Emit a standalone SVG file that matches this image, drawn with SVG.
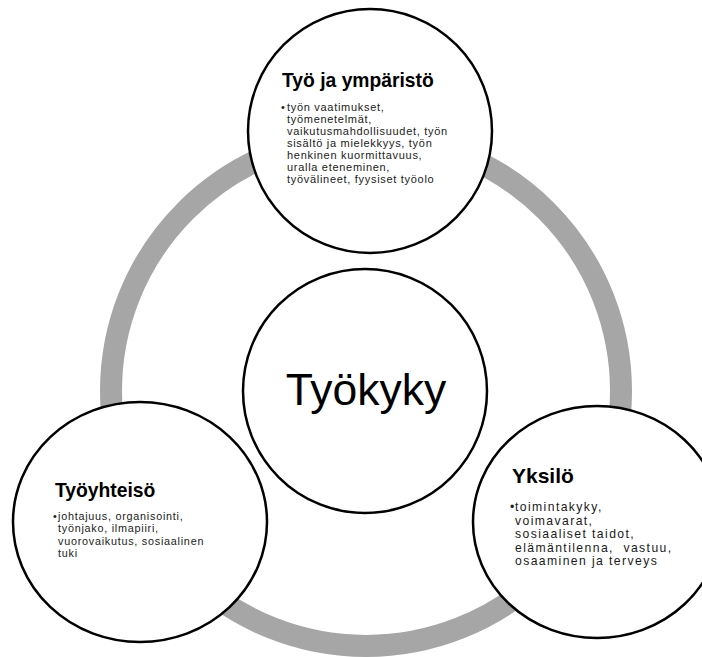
<svg xmlns="http://www.w3.org/2000/svg" width="702" height="657" viewBox="0 0 702 657">
  <style>
    .node { fill: #ffffff; stroke: #000000; stroke-width: 2.5; }
    .ring { fill: none; stroke: #a6a6a6; stroke-width: 22; }
    .title { font-family: "Liberation Sans", Arial, sans-serif; font-weight: bold; fill: #000000; }
    .body { font-family: "Liberation Sans", Arial, sans-serif; fill: #1a1a1a; white-space: pre; }
    .center { font-family: "Liberation Sans", Arial, sans-serif; font-size: 44.5px; fill: #000000; }
  </style>
  <rect width="702" height="657" fill="#ffffff"/>

  <!-- grey cycle ring linking the three outer nodes -->
  <g id="connectors">
    <circle class="ring" cx="366" cy="391" r="255"/>
  </g>

  <!-- top: work and environment -->
  <g id="node-tyo-ja-ymparisto">
    <circle class="node" cx="370" cy="131" r="122"/>
    <text class="title" x="282" y="87" font-size="19.3">Työ ja ympäristö</text>
    <text class="body" font-size="11" letter-spacing="0.7">
      <tspan x="281" y="111">•</tspan><tspan x="287" y="111">työn vaatimukset,</tspan>
      <tspan x="287" y="123">työmenetelmät,</tspan>
      <tspan x="287" y="135">vaikutusmahdollisuudet, työn</tspan>
      <tspan x="287" y="147">sisältö ja mielekkyys, työn</tspan>
      <tspan x="287" y="159">henkinen kuormittavuus,</tspan>
      <tspan x="287" y="171">uralla eteneminen,</tspan>
      <tspan x="287" y="183">työvälineet, fyysiset työolo</tspan>
    </text>
  </g>

  <!-- centre: work ability -->
  <g id="node-tyokyky">
    <circle class="node" cx="365" cy="391" r="122"/>
    <text class="center" x="366" y="405" text-anchor="middle">Työkyky</text>
  </g>

  <!-- lower left: work community -->
  <g id="node-tyoyhteiso">
    <ellipse class="node" cx="140" cy="522" rx="127" ry="120"/>
    <text class="title" x="55" y="497" font-size="19.3">Työyhteisö</text>
    <text class="body" font-size="10.8" letter-spacing="0.75">
      <tspan x="53" y="520">•</tspan><tspan x="58" y="520">johtajuus, organisointi,</tspan>
      <tspan x="58" y="532">työnjako, ilmapiiri,</tspan>
      <tspan x="58" y="545">vuorovaikutus, sosiaalinen</tspan>
      <tspan x="58" y="557">tuki</tspan>
    </text>
  </g>

  <!-- lower right: individual -->
  <g id="node-yksilo">
    <ellipse class="node" cx="597" cy="522" rx="124" ry="116"/>
    <text class="title" x="512" y="483" font-size="21">Yksilö</text>
    <text class="body" font-size="12.2" letter-spacing="1.4">
      <tspan x="510" y="511">•</tspan><tspan x="515" y="511">toimintakyky,</tspan>
      <tspan x="515" y="524.5">voimavarat,</tspan>
      <tspan x="515" y="538">sosiaaliset taidot,</tspan>
      <tspan x="515" y="551.5">elämäntilenna,  vastuu,</tspan>
      <tspan x="515" y="565">osaaminen ja terveys</tspan>
    </text>
  </g>
</svg>
